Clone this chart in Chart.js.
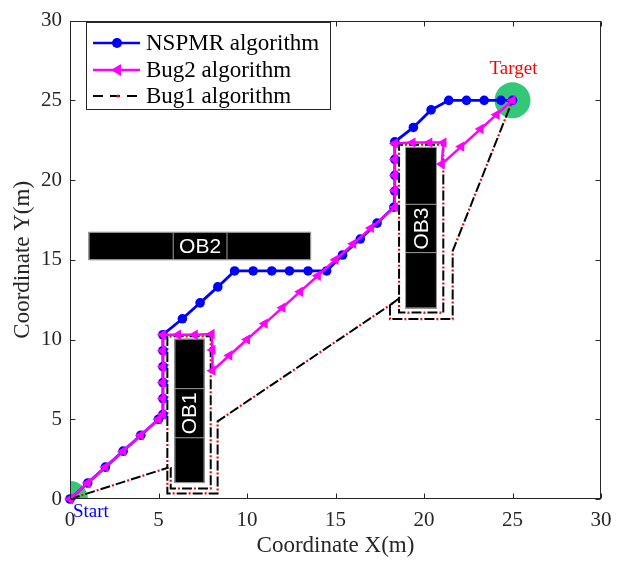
<!DOCTYPE html>
<html>
<head>
<meta charset="utf-8">
<script src="https://cdn.jsdelivr.net/npm/chart.js@4.4.0/dist/chart.umd.min.js"></script>
<style>
  html, body { margin: 0; padding: 0; background: #fff; }
  #wrap { width: 625px; height: 561px; }
</style>
</head>
<body>
<div id="wrap"><canvas id="chart" width="625" height="561"></canvas></div>
<script>
// tick labels
const xTicks = [0, 5, 10, 15, 20, 25, 30];
const yTicks = [0, 5, 10, 15, 20, 25, 30];

// NSPMR path
const nspmrX = [0, 1, 2, 3, 4, 5, 5.25, 5.25, 5.25, 5.25, 5.25, 5.25, 6.35, 7.35, 8.35, 9.3, 10.35, 11.4, 12.4, 13.45, 14.5, 15.4, 16.4, 17.35, 18.3, 18.35, 18.35, 18.35, 18.35, 19.4, 20.4, 21.4, 22.4, 23.4, 24.35, 25];
const nspmrY = [0, 1, 2, 3, 4, 5, 5.3, 6.3, 7.3, 8.3, 9.3, 10.3, 11.3, 12.3, 13.3, 14.3, 14.3, 14.3, 14.3, 14.3, 14.3, 15.3, 16.3, 17.3, 18.3, 19.3, 20.3, 21.3, 22.4, 23.3, 24.4, 25, 25, 25, 25, 25];

// Bug2 path
const bug2X = [0, 1, 2, 3, 4, 5, 5.25, 5.25, 5.25, 5.25, 5.25, 5.25, 6.1, 7.05, 8.0, 8.05, 8.05, 9, 10, 11, 12, 13, 14, 15, 16, 17, 18.35, 18.35, 18.35, 18.35, 18.35, 19.35, 20.3, 21.1, 21.0, 22.1, 23.2, 24.1, 25];
const bug2Y = [0, 1, 2, 3, 4, 5, 5.3, 6.3, 7.3, 8.3, 9.3, 10.3, 10.3, 10.3, 10.35, 9.35, 8.05, 9, 10, 11, 12, 13, 14, 15, 16, 17, 18.3, 19.35, 20.3, 21.3, 22.3, 22.35, 22.35, 22.35, 21.0, 22.1, 23.2, 24.1, 25];

// Bug1 path (vertices)
const bug1X = [0, 5.5, 5.5, 7.95, 7.95, 5.69, 5.69, 5.5, 5.5, 8.34, 8.34, 18.08, 18.59, 18.59, 21.09, 21.09, 18.59, 18.59, 18.08, 18.08, 21.62, 21.62, 25];
const bug1Y = [0, 1.95, 10.2, 10.2, 0.66, 0.66, 1.95, 1.95, 0.35, 0.35, 4.87, 12.16, 12.57, 22.22, 22.22, 11.69, 11.69, 12.57, 12.16, 11.28, 11.28, 15.55, 25];

// obstacles
const obstacleNames = ['OB1', 'OB2', 'OB3'];
const obstacleX0 = [5.9, 1.05, 18.93];
const obstacleX1 = [7.6, 13.62, 20.73];
const obstacleY0 = [1.0, 14.98, 11.95];
const obstacleY1 = [10.05, 16.75, 22.08];
const labelFrom = [3.84, 5.83, 15.45];
const labelTo = [6.92, 8.87, 18.48];

const startX = [0], startY = [0];
const targetX = [25], targetY = [25];

const pts = (xs, ys) => xs.map((v, i) => ({ x: v, y: ys[i] }));

const serif = '"Liberation Serif", "Times New Roman", serif';
const axisColor = '#262626';

const matlabLook = {
  id: 'matlabLook',
  beforeDatasetsDraw(chart) {
    const { ctx, scales: { x, y } } = chart;
    ctx.save();
    obstacleNames.forEach((name, i) => {
      const l = x.getPixelForValue(obstacleX0[i]);
      const r = x.getPixelForValue(obstacleX1[i]);
      const t = y.getPixelForValue(obstacleY1[i]);
      const b = y.getPixelForValue(obstacleY0[i]);
      ctx.fillStyle = '#000';
      ctx.fillRect(l, t, r - l, b - t);
      ctx.strokeStyle = '#a0a0a0';
      ctx.lineWidth = 1;
      ctx.strokeRect(l + 0.5, t + 0.5, r - l - 1, b - t - 1);
      const wide = (r - l) > (b - t);
      let cx, cy;
      ctx.beginPath();
      if (wide) {
        const a = x.getPixelForValue(labelFrom[i]);
        const c = x.getPixelForValue(labelTo[i]);
        ctx.moveTo(a, t); ctx.lineTo(a, b);
        ctx.moveTo(c, t); ctx.lineTo(c, b);
        cx = (a + c) / 2; cy = (t + b) / 2;
      } else {
        const a = y.getPixelForValue(labelFrom[i]);
        const c = y.getPixelForValue(labelTo[i]);
        ctx.moveTo(l, a); ctx.lineTo(r, a);
        ctx.moveTo(l, c); ctx.lineTo(r, c);
        cx = (l + r) / 2; cy = (a + c) / 2;
      }
      ctx.stroke();
      ctx.save();
      ctx.translate(cx, cy);
      if (!wide) ctx.rotate(-Math.PI / 2);
      ctx.fillStyle = '#fff';
      ctx.font = '21px "Liberation Sans", Arial, sans-serif';
      ctx.textAlign = 'center';
      ctx.textBaseline = 'middle';
      ctx.fillText(name, 0, 1);
      ctx.restore();
    });
    ctx.restore();
  },
  afterDatasetsDraw(chart) {
    const { ctx, chartArea: a, scales: { x, y } } = chart;
    ctx.save();
    // box + inward ticks
    ctx.strokeStyle = axisColor;
    ctx.lineWidth = 1;
    const L = Math.round(a.left) + 0.5, R = Math.round(a.right) - 0.5;
    const T = Math.round(a.top) + 0.5, B = Math.round(a.bottom) - 0.5;
    ctx.strokeRect(L, T, R - L, B - T);
    ctx.beginPath();
    xTicks.forEach(v => {
      const px = Math.round(x.getPixelForValue(v)) + 0.5;
      ctx.moveTo(px, B); ctx.lineTo(px, B - 5);
      ctx.moveTo(px, T); ctx.lineTo(px, T + 5);
    });
    yTicks.forEach(v => {
      const py = Math.round(y.getPixelForValue(v)) + 0.5;
      ctx.moveTo(L, py); ctx.lineTo(L + 5, py);
      ctx.moveTo(R, py); ctx.lineTo(R - 5, py);
    });
    ctx.stroke();

    // Start / Target labels
    ctx.font = '19px ' + serif;
    ctx.textBaseline = 'middle';
    ctx.textAlign = 'left';
    ctx.fillStyle = '#0000ff';
    ctx.fillText('Start', x.getPixelForValue(startX[0]) + 3, y.getPixelForValue(startY[0]) + 13);
    ctx.textAlign = 'center';
    ctx.fillStyle = '#ff0000';
    ctx.fillText('Target', x.getPixelForValue(targetX[0]) + 1, y.getPixelForValue(targetY[0]) - 31);

    // legend
    const lx = 86.5, ly = 22.5, lw = 244, lh = 87;
    ctx.fillStyle = '#fff';
    ctx.fillRect(lx, ly, lw, lh);
    ctx.strokeStyle = axisColor;
    ctx.strokeRect(lx, ly, lw, lh);
    const rows = [43, 70, 96];
    const sx0 = 93, sx1 = 140, sm = 117;
    ctx.lineWidth = 2.5;
    // NSPMR
    ctx.strokeStyle = '#0000ff'; ctx.fillStyle = '#0000ff';
    ctx.beginPath(); ctx.moveTo(sx0, rows[0]); ctx.lineTo(sx1, rows[0]); ctx.stroke();
    ctx.beginPath(); ctx.arc(sm, rows[0], 5, 0, Math.PI * 2); ctx.fill();
    // Bug2
    ctx.strokeStyle = '#ff00ff'; ctx.fillStyle = '#ff00ff';
    ctx.beginPath(); ctx.moveTo(sx0, rows[1]); ctx.lineTo(sx1, rows[1]); ctx.stroke();
    ctx.beginPath();
    ctx.moveTo(sm - 6, rows[1]); ctx.lineTo(sm + 4, rows[1] - 6); ctx.lineTo(sm + 4, rows[1] + 6);
    ctx.closePath(); ctx.fill();
    // Bug1
    ctx.lineWidth = 2;
    ctx.strokeStyle = '#000';
    ctx.setLineDash([10, 7]);
    ctx.beginPath(); ctx.moveTo(sx0, rows[2]); ctx.lineTo(sx1 + 1, rows[2]); ctx.stroke();
    ctx.setLineDash([]);
    ctx.fillStyle = '#ff0000';
    ctx.beginPath(); ctx.arc(sm + 1, rows[2], 1.5, 0, Math.PI * 2); ctx.fill();
    // legend text
    ctx.fillStyle = '#000';
    ctx.font = '23px ' + serif;
    ctx.textAlign = 'left';
    ctx.textBaseline = 'middle';
    chart.data.datasets.slice(0, 3).forEach((d, i) => ctx.fillText(d.label, 146, rows[i] + 1));
    ctx.restore();
  }
};

new Chart(document.getElementById('chart'), {
  type: 'scatter',
  data: {
    datasets: [
      {
        label: 'NSPMR algorithm',
        data: pts(nspmrX, nspmrY),
        showLine: true,
        borderColor: '#0000ff',
        backgroundColor: '#0000ff',
        borderWidth: 2.8,
        pointRadius: 4.8,
        pointBorderWidth: 0,
        pointStyle: 'circle',
        clip: false,
        order: 2
      },
      {
        label: 'Bug2 algorithm',
        data: pts(bug2X, bug2Y),
        showLine: true,
        borderColor: '#ff00ff',
        backgroundColor: '#ff00ff',
        borderWidth: 2.5,
        pointRadius: 6,
        pointBorderWidth: 0,
        pointStyle: 'triangle',
        pointRotation: -90,
        clip: false,
        order: 1
      },
      {
        label: 'Bug1 algorithm',
        data: pts(bug1X, bug1Y),
        showLine: true,
        borderColor: '#000000',
        borderWidth: 2,
        borderDash: [10, 6],
        pointRadius: 0,
        clip: false,
        order: 3
      },
      {
        label: 'Bug1 dots',
        data: pts(bug1X, bug1Y),
        showLine: true,
        borderColor: '#ff0000',
        borderWidth: 2.2,
        borderDash: [2, 14],
        borderDashOffset: -12,
        pointRadius: 0,
        clip: false,
        order: 4
      },
      {
        label: 'Start/Target',
        data: pts(startX.concat(targetX), startY.concat(targetY)),
        backgroundColor: 'rgb(50,200,120)',
        borderWidth: 0,
        pointRadius: 18,
        clip: 0,
        order: 10
      }
    ]
  },
  options: {
    responsive: false,
    devicePixelRatio: 1,
    animation: false,
    layout: { padding: { left: 0, right: 24, top: 12, bottom: 0 } },
    plugins: {
      legend: { display: false },
      tooltip: { enabled: false }
    },
    scales: {
      x: {
        type: 'linear',
        min: 0, max: 30,
        afterBuildTicks: s => { s.ticks = xTicks.map(v => ({ value: v })); },
        afterFit: s => { s.height = 62; },
        grid: { display: false, drawTicks: false },
        border: { display: false },
        ticks: { font: { family: serif, size: 21 }, color: axisColor, padding: 9, maxRotation: 0 },
        title: { display: true, text: 'Coordinate X(m)', font: { family: serif, size: 23 }, color: axisColor, padding: { top: 0, bottom: 1 } }
      },
      y: {
        type: 'linear',
        min: 0, max: 30,
        afterBuildTicks: s => { s.ticks = yTicks.map(v => ({ value: v })); },
        afterFit: s => { s.width = 70; },
        grid: { display: false, drawTicks: false },
        border: { display: false },
        ticks: { font: { family: serif, size: 21 }, color: axisColor, padding: 8 },
        title: { display: true, text: 'Coordinate Y(m)', font: { family: serif, size: 23 }, color: axisColor, padding: { top: 9, bottom: 0 } }
      }
    }
  },
  plugins: [matlabLook]
});
</script>
</body>
</html>
